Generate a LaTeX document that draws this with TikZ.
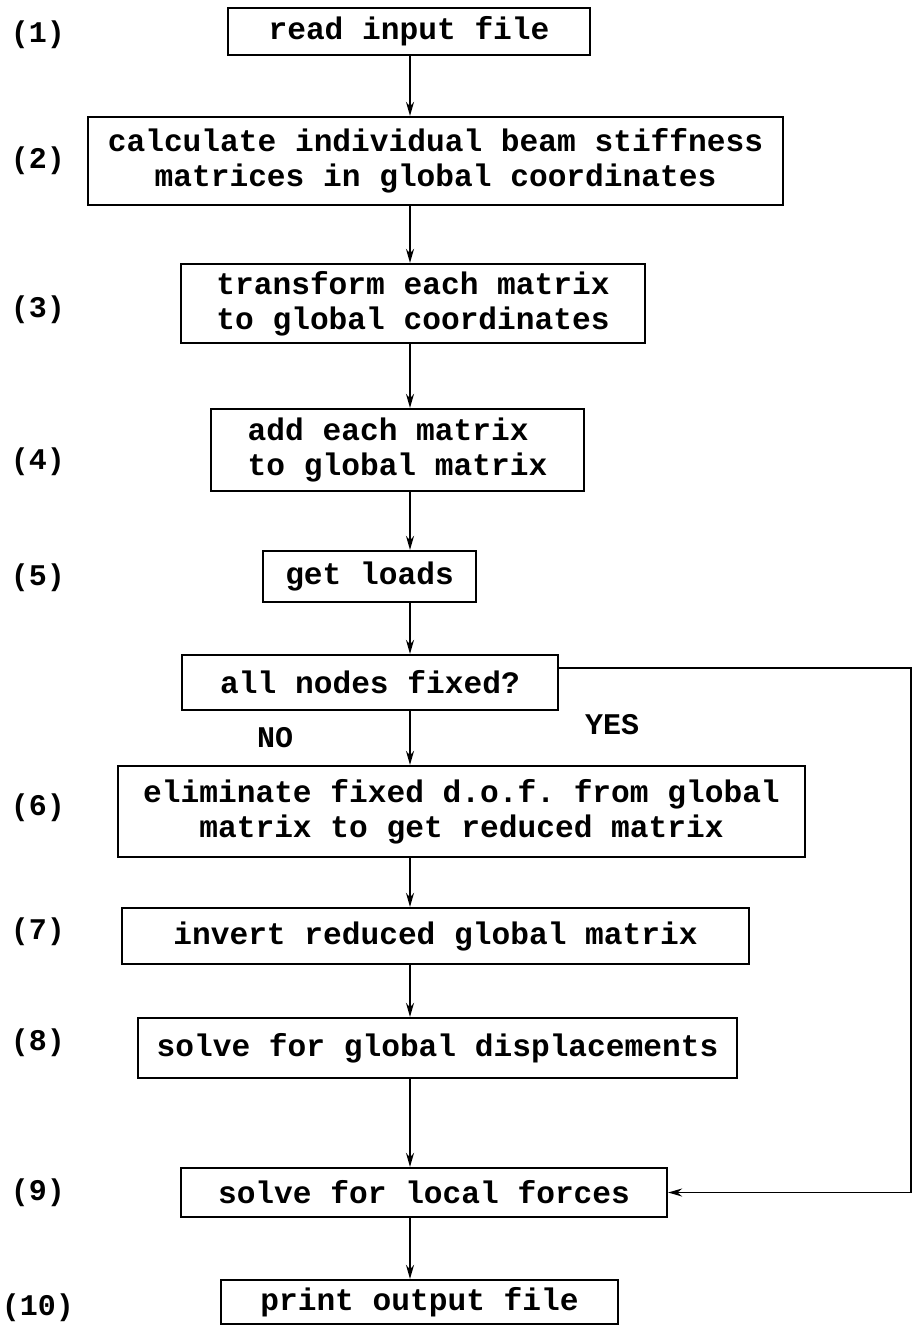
\documentclass[tikz,border=0pt]{standalone}
\usepackage{fontspec}
\setmonofont{Liberation Mono}
\usetikzlibrary{arrows.meta}
\tikzset{
	stepbox/.style={draw,line width=1.1pt,inner sep=0pt,
		font=\ttfamily\bfseries\fontsize{15.6}{17.5}\selectfont},
	numlabel/.style={font=\ttfamily\bfseries\fontsize{15}{17}\selectfont},
	flow/.style={line width=0.9pt,-{Stealth[length=7pt,width=4pt]}}
}

\begin{document}
\begin{tikzpicture}[x=0.5pt,y=-0.5pt]
\useasboundingbox (0,0) rectangle (914,1326);
% boxes of the flow chart
\foreach \name/\x/\y/\w/\h/\al/\txt in {
	b1/409/31.5/362/47/center/{read input file},
	b2/435.5/161/695/88/center/{calculate individual beam stiffness\\matrices in global coordinates},
	b3/413/303.5/464/79/center/{transform each matrix\\to global coordinates},
	b4/397.5/450/373/82/left/{add each matrix\\to global matrix},
	b5/369.5/576.5/213/51/center/{get loads},
	dec/370/682.5/376/55/center/{all nodes fixed?},
	b6/461.5/811.5/687/91/center/{eliminate fixed d.o.f. from global\\matrix to get reduced matrix},
	b7/435.5/936/627/56/center/{invert reduced global matrix},
	b8/437.5/1048/599/60/center/{solve for global displacements},
	b9/424/1192.5/486/49/center/{solve for local forces},
	b10/419.5/1302/397/44/center/{print output file}%
	}{
	\node[stepbox,align=\al,minimum width=\w*0.5pt,minimum height=\h*0.5pt] (\name) at (\x,\y) {\txt};
	}
% step numbers
\foreach \lab/\y [count=\i] in {(1)/35,(2)/161,(3)/310,(4)/462,(5)/578,(6)/808,(7)/932,(8)/1043,(9)/1193,(10)/1308}{
	\node[numlabel] (n\i) at (38,\y) {\lab};
	}
% main line
\coordinate (spine) at (410,0);
\foreach \a/\b in {b1/b2,b2/b3,b3/b4,b4/b5,b5/dec,dec/b6,b6/b7,b7/b8,b8/b9,b9/b10}{
	\draw[flow] (\a.south -| spine) -- (\b.north -| spine);
	}
% branch labels and feedback
\node[numlabel] (no) at (275,738) {NO};
\node[numlabel] (yes) at (612,725) {YES};
\coordinate (rt) at (911,668);
\draw[flow] (dec.east |- rt) -- (rt) |- (b9.east);
\end{tikzpicture}
\end{document}
